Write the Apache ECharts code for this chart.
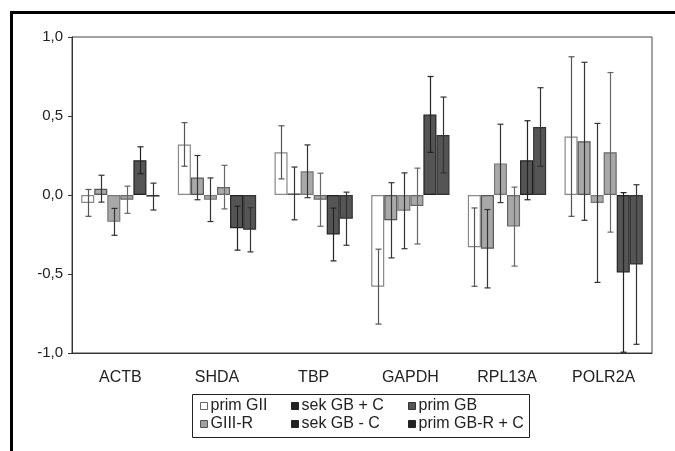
<!DOCTYPE html>
<html>
<head>
<meta charset="utf-8">
<script src="https://cdn.jsdelivr.net/npm/echarts@6/dist/echarts.min.js"></script>
<style>html,body{margin:0;padding:0;background:#fff}#c{width:675px;height:451px}</style>
</head>
<body>
<div id="c"></div>
<script>
var categories = ['ACTB', 'SHDA', 'TBP', 'GAPDH', 'RPL13A', 'POLR2A'];
var seriesNames = ['prim GII', 'GIII-R', 'sek GB + C', 'sek GB - C', 'prim GB', 'prim GB-R + C'];
var primGII   = [-0.05, 0.32, 0.27, -0.58, -0.33, 0.37];
var giiiR     = [0.04, 0.11, 0.01, -0.16, -0.34, 0.34];
var sekGBplus = [-0.17, -0.03, 0.15, -0.10, 0.20, -0.05];
var sekGBminus= [-0.03, 0.05, -0.03, -0.07, -0.20, 0.27];
var primGB    = [0.22, -0.21, -0.25, 0.51, 0.22, -0.49];
var primGBRC  = [-0.01, -0.22, -0.15, 0.38, 0.43, -0.44];
var errPrimGII   = [0.085, 0.138, 0.168, 0.237, 0.248, 0.505];
var errGiiiR     = [0.085, 0.140, 0.167, 0.238, 0.248, 0.500];
var errSekGBplus = [0.085, 0.138, 0.167, 0.240, 0.248, 0.503];
var errSekGBminus= [0.086, 0.138, 0.168, 0.240, 0.250, 0.505];
var errPrimGB    = [0.085, 0.139, 0.167, 0.240, 0.250, 0.505];
var errPrimGBRC  = [0.085, 0.140, 0.168, 0.240, 0.249, 0.505];
var yTicks = [-1.0, -0.5, 0.0, 0.5, 1.0];

var values = [primGII, giiiR, sekGBplus, sekGBminus, primGB, primGBRC];
var errors = [errPrimGII, errGiiiR, errSekGBplus, errSekGBminus, errPrimGB, errPrimGBRC];
var barFill   = ['#ffffff', '#a8a8a8', '#a8a8a8', '#a8a8a8', '#555555', '#555555'];
var barBorder = ['#888888', '#555555', '#777777', '#666666', '#222222', '#333333'];
var errColor  = ['#555555', '#333333', '#333333', '#666666', '#222222', '#333333'];
var legendFill = ['#ffffff', '#a0a0a0', '#222222', '#222222', '#555555', '#222222'];
var legendBorder = ['#666666', '#555555', '#222222', '#222222', '#333333', '#222222'];
var CAT_GAP = 0.19;
var N = 6;
var FONT = 'Liberation Sans';

function makeErr(si) {
  return function (params, api) {
    var x = api.value(0), lo = api.value(1), hi = api.value(2);
    var band = api.size([1, 0])[0];
    var total = band * (1 - CAT_GAP);
    var bw = total / N;
    var off = -total / 2 + bw * (si + 0.5);
    var pLo = api.coord([x, lo]), pHi = api.coord([x, hi]);
    var cx = Math.round(pLo[0] + off) + 0.5;
    var cap = 3;
    var st = { stroke: errColor[si], lineWidth: 1.2 };
    return {
      type: 'group',
      children: [
        { type: 'line', shape: { x1: cx, y1: pHi[1], x2: cx, y2: pLo[1] }, style: st },
        { type: 'line', shape: { x1: cx - cap, y1: pHi[1], x2: cx + cap, y2: pHi[1] }, style: st },
        { type: 'line', shape: { x1: cx - cap, y1: pLo[1], x2: cx + cap, y2: pLo[1] }, style: st }
      ]
    };
  };
}

var series = [];
for (var i = 0; i < N; i++) {
  series.push({
    name: seriesNames[i],
    type: 'bar',
    data: values[i],
    barGap: '0%',
    barCategoryGap: (CAT_GAP * 100) + '%',
    itemStyle: { color: barFill[i], borderColor: barBorder[i], borderWidth: 1.2 },
    emphasis: { disabled: true },
    z: 2
  });
}
for (var j = 0; j < N; j++) {
  var d = [];
  for (var k = 0; k < categories.length; k++) {
    d.push([k, values[j][k] - errors[j][k], values[j][k] + errors[j][k]]);
  }
  series.push({
    type: 'custom',
    renderItem: makeErr(j),
    data: d,
    z: 5,
    silent: true
  });
}

var legendPos = [
  [200, 398], [200, 416], [291, 398], [291, 416], [408, 398], [408, 416]
];
var legends = [];
for (var m = 0; m < N; m++) {
  legends.push({
    data: [{ name: seriesNames[m], itemStyle: { color: legendFill[m], borderColor: legendBorder[m], borderWidth: 1 } }],
    left: legendPos[m][0],
    top: legendPos[m][1],
    padding: 0,
    itemWidth: 7,
    itemHeight: 7,
    itemGap: 3,
    icon: 'rect',
    selectedMode: false,
    textStyle: { fontSize: 16, color: '#222', fontFamily: FONT, padding: [0, 0, 0, -2] }
  });
}

var chart = echarts.init(document.getElementById('c'));
chart.setOption({
  animation: false,
  backgroundColor: '#fff',
  grid: { left: 72, right: 23, top: 37, bottom: 98, show: true, borderColor: '#444', borderWidth: 1 },
  xAxis: {
    type: 'category',
    data: categories,
    position: 'bottom',
    axisLine: { onZero: false, lineStyle: { color: '#333', width: 1 } },
    axisTick: { show: false },
    axisLabel: { fontSize: 16, color: '#222', fontFamily: FONT, margin: 17 }
  },
  yAxis: {
    type: 'value',
    min: yTicks[0],
    max: yTicks[yTicks.length - 1],
    interval: 0.5,
    splitLine: { show: false },
    axisLine: { show: true, lineStyle: { color: '#333', width: 1 } },
    axisTick: { show: true, length: 4, lineStyle: { color: '#333' } },
    axisLabel: {
      fontSize: 15, color: '#222', fontFamily: FONT, margin: 9,
      formatter: function (v) { return v.toFixed(1).replace('.', ','); }
    }
  },
  legend: legends,
  graphic: [
    { type: 'rect', shape: { x: 192.5, y: 394.5, width: 337, height: 43 }, style: { fill: 'none', stroke: '#222', lineWidth: 1 } },
    { type: 'line', shape: { x1: 10, y1: 12.5, x2: 675, y2: 12.5 }, style: { stroke: '#000', lineWidth: 3 } },
    { type: 'line', shape: { x1: 11.5, y1: 11, x2: 11.5, y2: 451 }, style: { stroke: '#000', lineWidth: 3 } }
  ],
  series: series
});
</script>
</body>
</html>
